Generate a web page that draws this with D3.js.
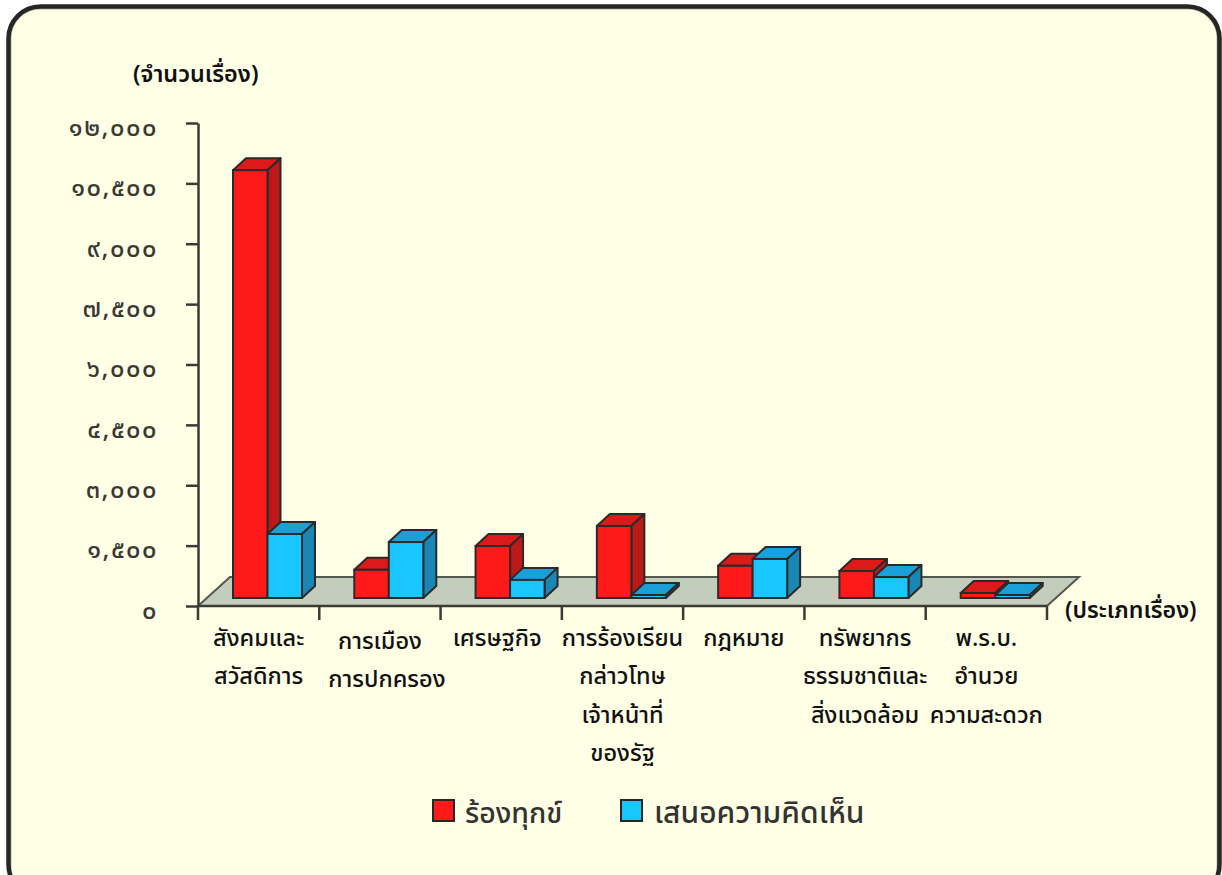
<!DOCTYPE html>
<html>
<head>
<meta charset="utf-8">
<script src="https://cdn.jsdelivr.net/npm/d3@7"></script>
<style>
    html, body { margin: 0; padding: 0; background: #fff; overflow: hidden; }
    text { font-family: "Noto Sans Thai", "Noto Sans", "Liberation Sans", "DejaVu Sans", sans-serif; }
</style>
</head>
<body>
<svg id="drawing_region"></svg>
<script>
const categories = [
    ["สังคมและ", "สวัสดิการ"],
    ["การเมือง", "การปกครอง"],
    ["เศรษฐกิจ"],
    ["การร้องเรียน", "กล่าวโทษ", "เจ้าหน้าที่", "ของรัฐ"],
    ["กฎหมาย"],
    ["ทรัพยากร", "ธรรมชาติและ", "สิ่งแวดล้อม"],
    ["พ.ร.บ.", "อำนวย", "ความสะดวก"]
];
const complaints = [10630, 700, 1290, 1790, 800, 670, 125];
const opinions = [1590, 1390, 450, 75, 970, 520, 75];
const seriesNames = ["ร้องทุกข์", "เสนอความคิดเห็น"];
const yTicks = [0, 1500, 3000, 4500, 6000, 7500, 9000, 10500, 12000];
const yTitle = "(จำนวนเรื่อง)";
const xTitle = "(ประเภทเรื่อง)";

const width = 1222, height = 875;
const thaiDigits = "๐๑๒๓๔๕๖๗๘๙";
const toThai = v => d3.format(",")(v).replace(/\d/g, c => thaiDigits[+c]);

const svg = d3.select("#drawing_region").attr("width", width).attr("height", height);

// card
svg.append("rect").attr("x", 10).attr("y", 8).attr("width", 1208).attr("height", 890).attr("rx", 30)
    .attr("fill", "#ffffe6").attr("stroke", "#bdbda6").attr("stroke-width", 3);
svg.append("rect").attr("x", 8.5).attr("y", 6.5).attr("width", 1211).attr("height", 890).attr("rx", 32)
    .attr("fill", "none").attr("stroke", "#262626").attr("stroke-width", 4.5);

const x0 = d3.scaleBand().domain(d3.range(categories.length)).range([198, 1047]);
const y = d3.scaleLinear().domain([0, 12000]).range([606, 123]);
const depth = {x: 13, y: 12};
const floor = {x: 32, y: 29};
const liftY = 8;
const barPad = 35, barW = 34.5;

// floor
const fl = y(0), fr = x0.range()[1], flx = x0.range()[0];
svg.append("path")
    .attr("d", d3.line()([[flx, fl], [fr, fl], [fr + floor.x, fl - floor.y], [flx + floor.x, fl - floor.y]]) + "Z")
    .attr("fill", "#c3cdbb").attr("stroke", "#55584f").attr("stroke-width", 2);

// bars
const colors = [
    {front: "#ff1a1a", top: "#dc1a1a", side: "#bb1a18"},
    {front: "#1ac6ff", top: "#1a9fd6", side: "#1a86b4"}
];
const series = [complaints, opinions];
const edge = "#2a2a2a";

function drawBar(g, left, value, c) {
    const base = y(0) - liftY;
    const h = y(0) - y(value);
    const top = base - h, right = left + barW;
    const dx = depth.x, dy = depth.y;
    g.append("path")
        .attr("d", `M${left},${top}L${left + dx},${top - dy}L${right + dx},${top - dy}L${right},${top}Z`)
        .attr("fill", c.top).attr("stroke", edge).attr("stroke-width", 2).attr("stroke-linejoin", "round");
    g.append("path")
        .attr("d", `M${right},${top}L${right + dx},${top - dy}L${right + dx},${base - dy}L${right},${base}Z`)
        .attr("fill", c.side).attr("stroke", edge).attr("stroke-width", 2).attr("stroke-linejoin", "round");
    g.append("rect").attr("x", left).attr("y", top).attr("width", barW).attr("height", h)
        .attr("fill", c.front).attr("stroke", edge).attr("stroke-width", 2);
}

categories.forEach((cat, i) => {
    const g = svg.append("g");
    series.forEach((vals, s) => {
        drawBar(g, x0(i) + barPad + s * barW, vals[i], colors[s]);
    });
});

// axes
const yAxis = d3.axisLeft(y).tickValues(yTicks).tickSize(12).tickSizeOuter(0).tickPadding(28).tickFormat(toThai);
const yg = svg.append("g").attr("transform", "translate(198,0)").call(yAxis);
yg.selectAll("line").attr("stroke", "#3c3a35").attr("stroke-width", 2.5);
yg.select(".domain").attr("stroke", "#3c3a35").attr("stroke-width", 2.5);
yg.selectAll("text").attr("font-size", 25.5).attr("font-weight", 500).attr("fill", "#3a3a34")
    .attr("letter-spacing", 1.5).attr("dy", "0.48em").attr("y", 0)
    .style("font-family", '"Noto Sans Thai", "Noto Sans", sans-serif');

const xg = svg.append("g").attr("transform", `translate(0,${y(0)})`);
xg.append("line").attr("x1", flx).attr("x2", fr).attr("stroke", "#3c3a35").attr("stroke-width", 2.5);
xg.selectAll(".xt").data(d3.range(categories.length + 1)).enter().append("line")
    .attr("x1", d => i2x(d)).attr("x2", d => i2x(d)).attr("y1", 0).attr("y2", 14)
    .attr("stroke", "#3c3a35").attr("stroke-width", 2.5);
function i2x(i) { return flx + i * x0.bandwidth(); }

// category labels
categories.forEach((lines, i) => {
    lines.forEach((t, j) => {
        svg.append("text")
            .attr("x", x0(i) + x0.bandwidth() / 2 + (i === 1 && j === 1 ? 7 : 0) + (i === 2 ? -4 : 0))
            .attr("y", 645.5 + j * 38.6 + (i === 1 ? 3 : 0))
            .attr("text-anchor", "middle").attr("font-size", 23.5).attr("font-weight", 500)
            .attr("fill", "#111").text(t);
    });
});

svg.append("text").attr("x", 133).attr("y", 82).attr("font-size", 23.4).attr("font-weight", 600).attr("fill", "#111").text(yTitle);
svg.append("text").attr("x", 1065).attr("y", 618).attr("font-size", 23.2).attr("font-weight", 600).attr("fill", "#111").text(xTitle);

// legend
const legendX = [433, 621], legendT = [465, 654], legendSize = [28.5, 30];
seriesNames.forEach((name, i) => {
    svg.append("rect").attr("x", legendX[i]).attr("y", 800).attr("width", 21).attr("height", 21)
        .attr("fill", colors[i].front).attr("stroke", "#262626").attr("stroke-width", 2);
    svg.append("text").attr("x", legendT[i]).attr("y", 823).attr("font-size", legendSize[i]).attr("font-weight", 500)
        .attr("fill", "#333").text(name);
});
</script>
</body>
</html>
